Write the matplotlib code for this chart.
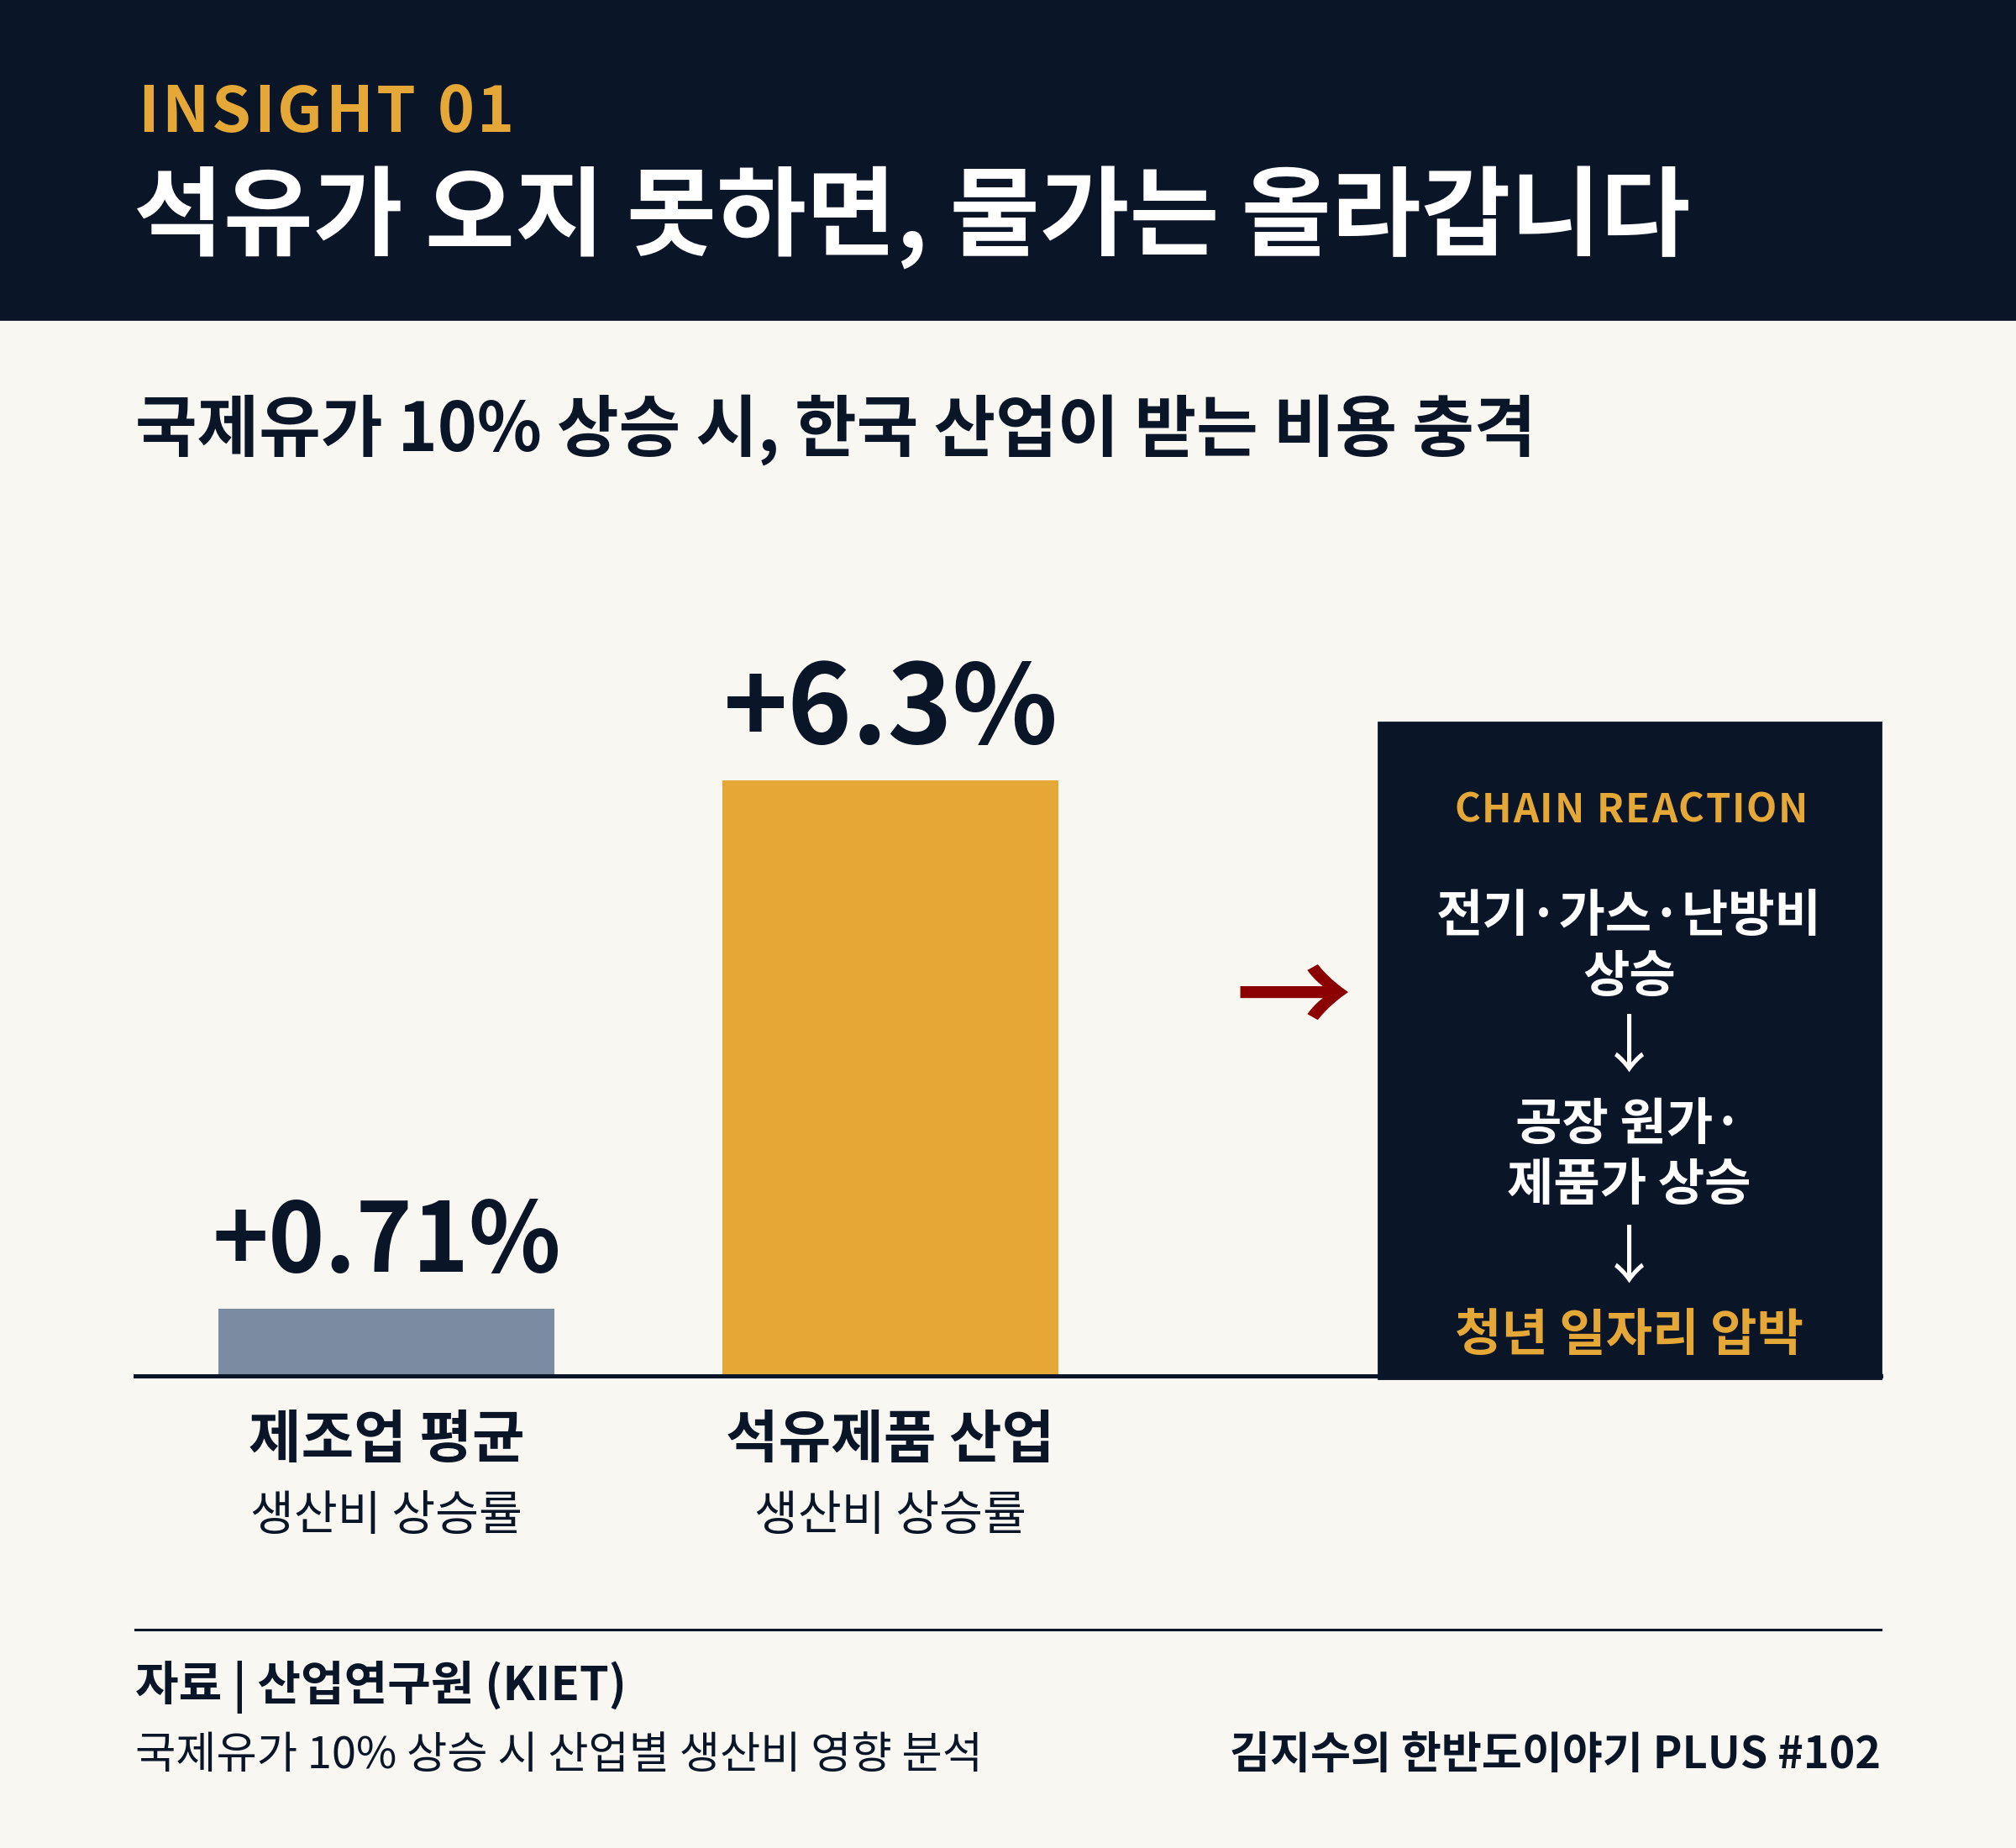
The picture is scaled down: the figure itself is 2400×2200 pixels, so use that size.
import matplotlib
matplotlib.use('Agg')
import matplotlib.pyplot as plt
from matplotlib.patches import Rectangle
from matplotlib.lines import Line2D
from matplotlib.font_manager import FontProperties

plt.rcParams['font.family'] = ['Noto Sans CJK KR', 'DejaVu Sans']

categories = ['제조업 평균', '석유제품 산업']
sublabels = ['생산비 상승률', '생산비 상승률']
values = [0.71, 6.3]
value_labels = ['+0.71%', '+6.3%']
bar_colors = ['#7b8ba1', '#e5a836']
chain_lines = ['전기·가스·난방비', '상승', '↓', '공장 원가·', '제품가 상승', '↓', '청년 일자리 압박']

NAVY = '#0b1528'
GOLD = '#e5a836'
BG = '#f8f7f2'
RED = '#8b0000'

W, H = 1568, 1437   # layout grid (reference at reduced scale)


def fx(x):
    return x / W


def fy(y):
    return 1 - y / H


fig = plt.figure(figsize=(12, 11), dpi=200, facecolor=BG)
renderer = fig.canvas.get_renderer()


def spaced_text(x, y, s, width, ha='left', **kw):
    # draw string char by char so the letter spacing fills the given width
    fp = FontProperties(family=['Noto Sans CJK KR', 'DejaVu Sans'],
                        size=kw.get('fontsize', 12), weight=kw.get('fontweight', 'normal'))
    ws = []
    for ch in s:
        if ch == ' ':
            ws.append(fp.get_size_in_points() * 200 / 72 * 0.25)
        else:
            ws.append(renderer.get_text_width_height_descent(ch, fp, ismath=False)[0])
    total = width * 2400 / W
    gap = (total - sum(ws)) / max(len(s) - 1, 1)
    px = fx(x) * 2400 if ha == 'left' else fx(x) * 2400 - total / 2
    for ch, w in zip(s, ws):
        if ch != ' ':
            fig.text(px / 2400, fy(y), ch, ha='left', va='center', **kw)
        px += w + gap


# header band
fig.patches.append(Rectangle((0, fy(248)), 1, 1 - fy(248), transform=fig.transFigure,
                             color=NAVY, zorder=0))
spaced_text(107, 88, 'INSIGHT 01', 293, fontsize=27, fontweight='bold', color=GOLD)
fig.text(fx(104), fy(169), '석유가 오지 못하면, 물가는 올라갑니다', ha='left', va='center',
         fontsize=41.8, fontweight='bold', color='white')

fig.text(fx(105), fy(334), '국제유가 10% 상승 시, 한국 산업이 받는 비용 충격', ha='left', va='center',
         fontsize=28.8, fontweight='bold', color=NAVY)

# bar axes
ax = fig.add_axes([fx(105), fy(1070), fx(1463) - fx(105), fy(480) - fy(1070)])
ax.set_facecolor('none')
x = list(range(len(values)))
ax.bar(x, values, width=261 / 392, color=bar_colors, zorder=2)
ax.set_xlim(-(300.5 - 105) / 392, (1463 - 300.5) / 392)
ax.set_ylim(0, (1070 - 480) / 73.5)
for s in ['top', 'left', 'right']:
    ax.spines[s].set_visible(False)
ax.spines['bottom'].set_linewidth(1.8)
ax.spines['bottom'].set_color(NAVY)
ax.spines['bottom'].set_zorder(3)
ax.set_xticks([])
ax.set_yticks([])

sizes = [41, 47]
for i, (v, lab) in enumerate(zip(values, value_labels)):
    ax.annotate(lab, (i, v), xytext=(0, 16), textcoords='offset points', ha='center',
                va='baseline', fontsize=sizes[i], fontweight='bold', color=NAVY)
    ax.annotate(categories[i], (i, 0), xytext=(0, -28), textcoords='offset points',
                ha='center', va='center', fontsize=24.5, fontweight='bold', color=NAVY,
                annotation_clip=False)
    ax.annotate(sublabels[i], (i, 0), xytext=(0, -60), textcoords='offset points',
                ha='center', va='center', fontsize=20.3, color=NAVY, annotation_clip=False)

# red arrow
fig.text(fx(1006), fy(780), '→', ha='center', va='center', fontsize=50,
         fontweight='bold', color=RED)

# chain reaction box
fig.patches.append(Rectangle((fx(1072), fy(1072)), fx(1463) - fx(1072), fy(562) - fy(1072),
                             transform=fig.transFigure, color=NAVY, zorder=1))
spaced_text(1268.5, 630, 'CHAIN REACTION', 275, ha='center', fontsize=17,
            fontweight='bold', color=GOLD)
ys = [713, 760, 815, 875, 922, 979, 1039]
for i, (t, yy) in enumerate(zip(chain_lines, ys)):
    col = GOLD if i == len(chain_lines) - 1 else 'white'
    if t == '↓':
        fs, fw = 27, 'normal'
    else:
        fs, fw = 21.7, 'bold'
    fig.text(fx(1267), fy(yy), t, ha='center', va='center', fontsize=fs,
             fontweight=fw, color=col)

# footer
fig.lines.append(Line2D([fx(105), fx(1463)], [fy(1267), fy(1267)], transform=fig.transFigure,
                        color=NAVY, linewidth=1.1))
fig.text(fx(105), fy(1312), '자료 | 산업연구원 (KIET)', ha='left', va='center',
         fontsize=20.2, fontweight='bold', color=NAVY)
fig.text(fx(105), fy(1365), '국제유가 10% 상승 시 산업별 생산비 영향 분석', ha='left', va='center',
         fontsize=18.9, color=NAVY)
fig.text(fx(1463), fy(1365), '김지수의 한반도이야기 PLUS #102', ha='right', va='center',
         fontsize=18.8, fontweight='bold', color=NAVY)

fig.savefig('out.png', dpi=200, facecolor=BG)
